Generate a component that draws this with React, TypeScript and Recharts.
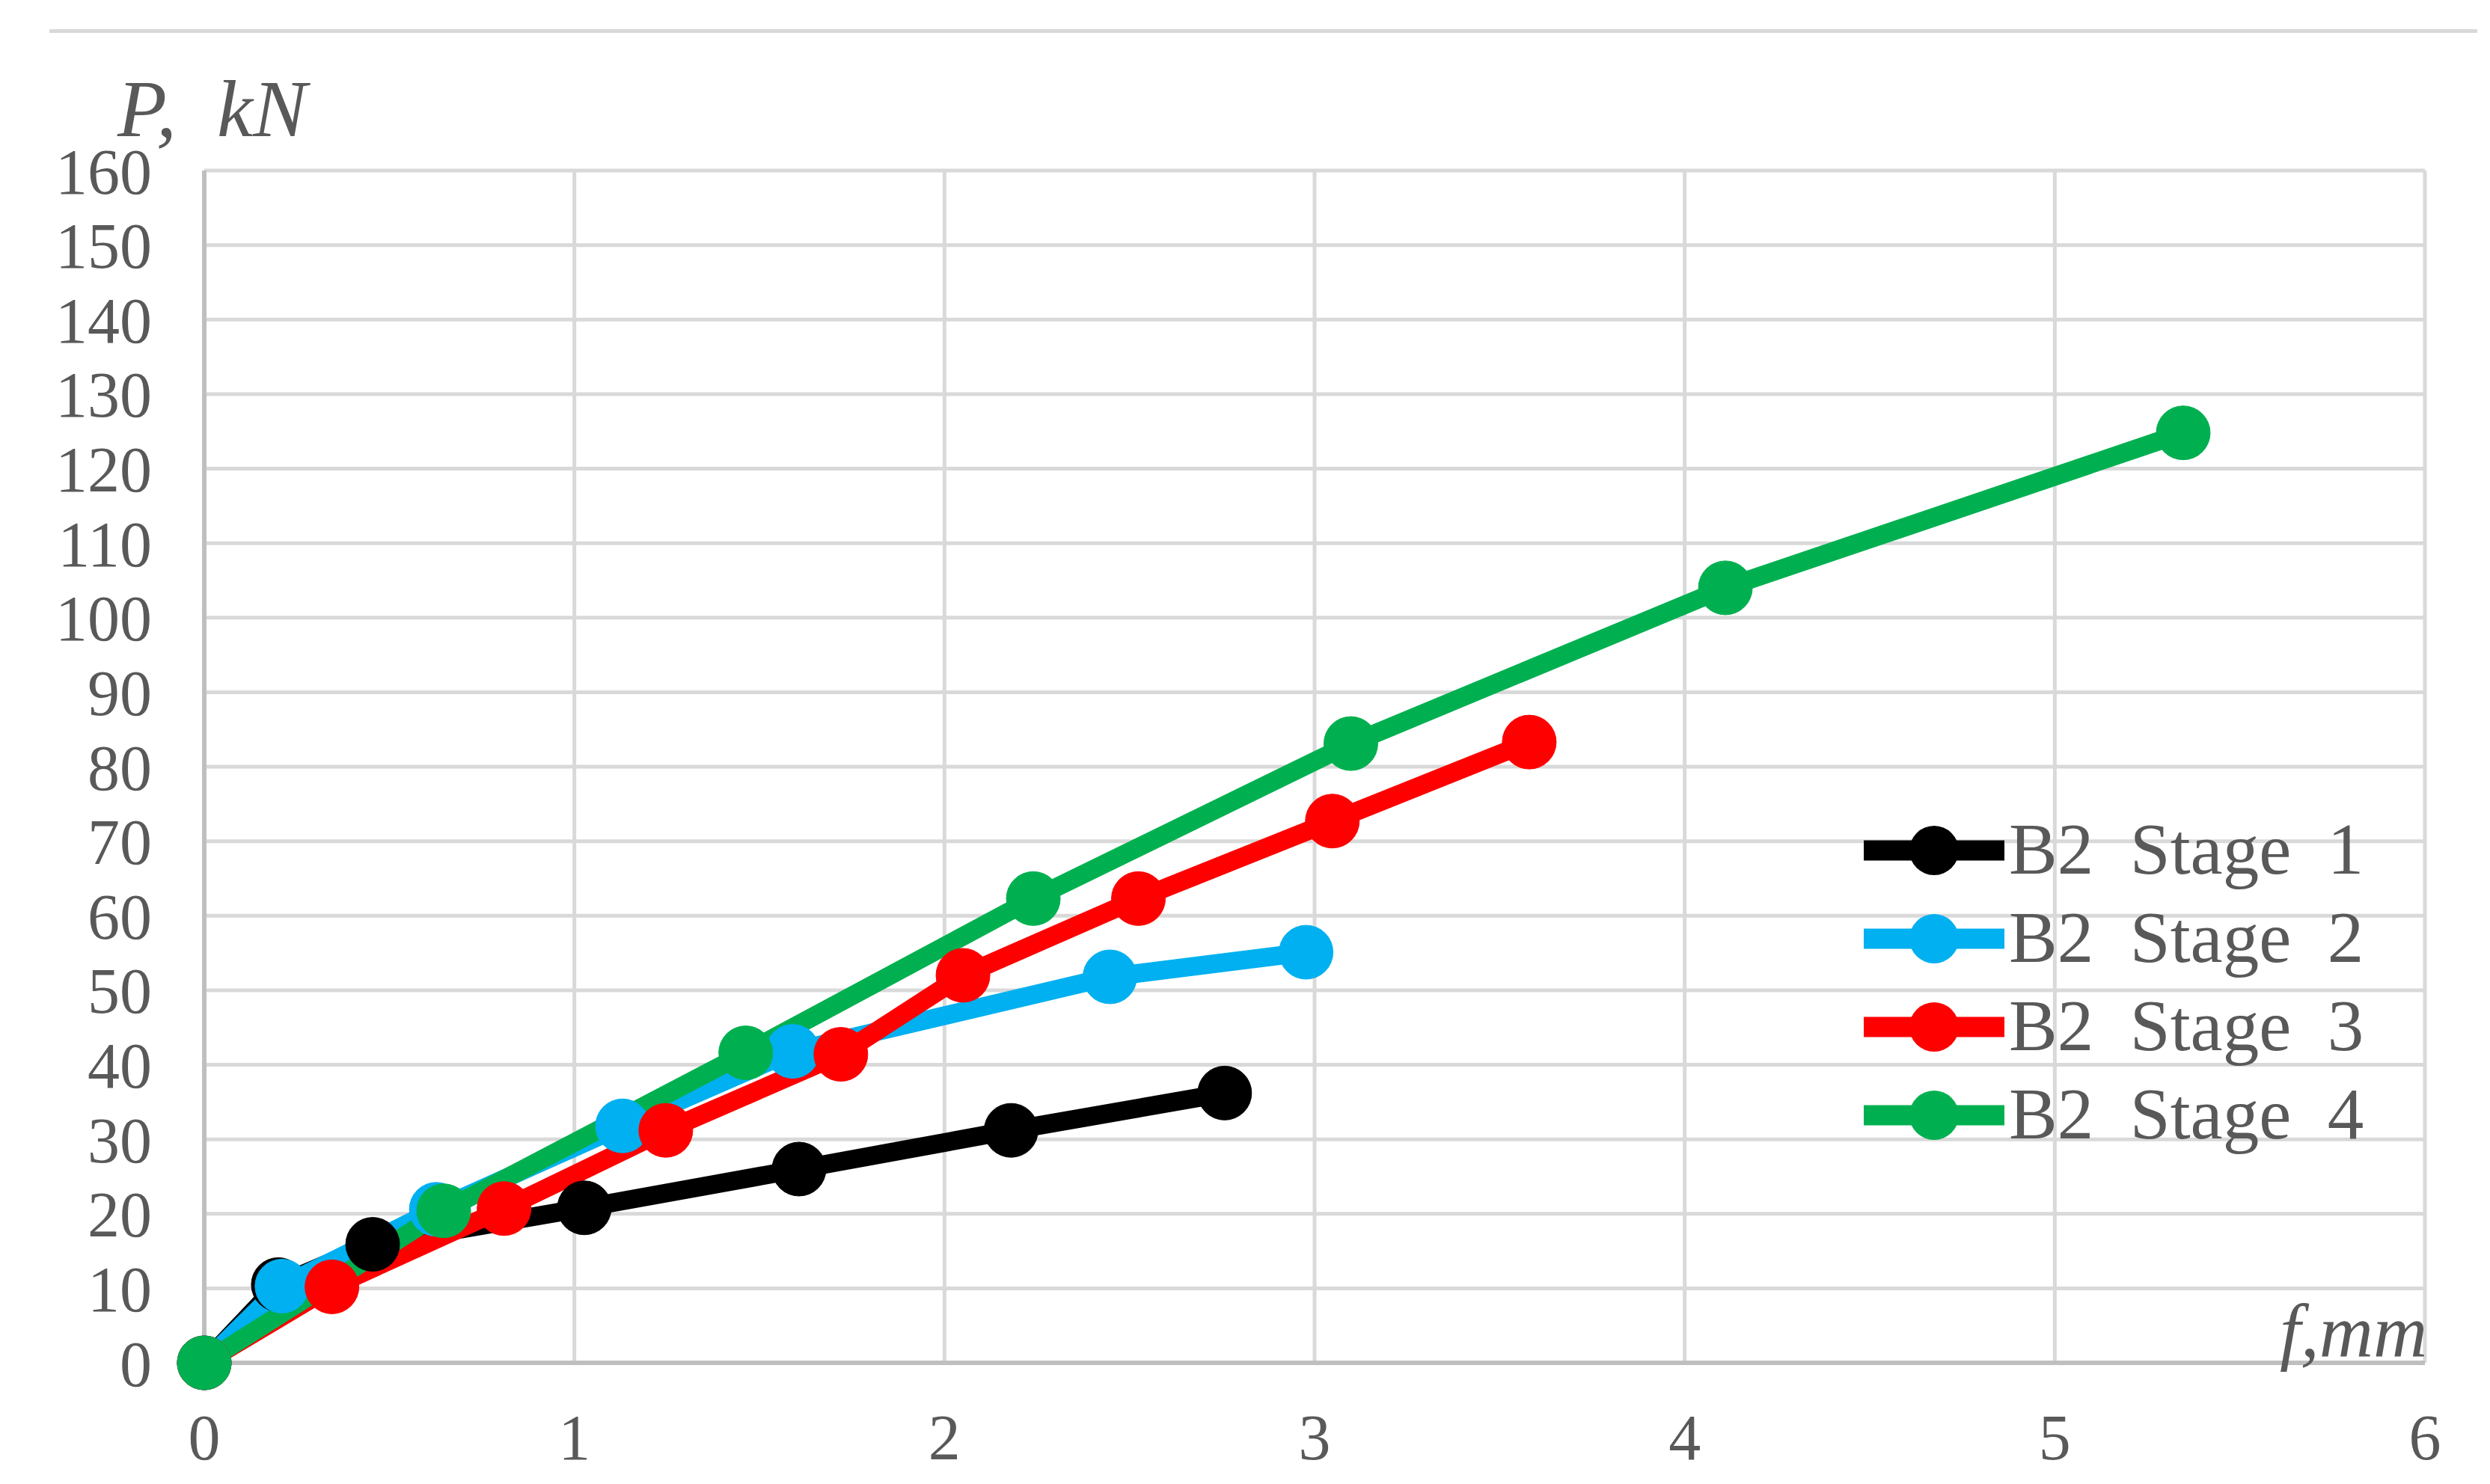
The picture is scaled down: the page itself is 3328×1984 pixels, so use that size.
import React from 'react';
import { LineChart, Line, XAxis, YAxis, CartesianGrid, Legend } from 'recharts';

// deflection f (mm) and load P (kN)
const stage1X = [0, 0.2, 0.455, 1.027, 1.607, 2.18, 2.757];
const stage1Y = [0, 10.5, 15.9, 20.8, 26.0, 31.2, 36.2];

const stage2X = [0, 0.21, 0.627, 1.13, 1.59, 2.447, 2.977];
const stage2Y = [0, 10.3, 20.6, 31.8, 41.8, 51.8, 55.1];

const stage3X = [0, 0.345, 0.81, 1.247, 1.72, 2.05, 2.524, 3.048, 3.58];
const stage3Y = [0, 10.2, 20.7, 31.2, 41.4, 52.0, 62.3, 72.7, 83.3];

const stage4X = [0, 0.647, 1.463, 2.24, 3.098, 4.11, 5.347];
const stage4Y = [0, 20.4, 41.6, 62.3, 83.1, 104.0, 124.8];

const seriesNames = ['B2  Stage  1', 'B2  Stage  2', 'B2  Stage  3', 'B2  Stage  4'];
const seriesColors = ['#000000', '#00b0f0', '#ff0000', '#00b050'];

const xTicks = [0, 1, 2, 3, 4, 5, 6];
const yTicks = [0, 10, 20, 30, 40, 50, 60, 70, 80, 90, 100, 110, 120, 130, 140, 150, 160];

const yTitle = 'P,  kN';
const xTitle = 'f,mm';

const toPoints = (xs: number[], ys: number[]) => xs.map((x, i) => ({ x, y: ys[i] }));

const series = [
  toPoints(stage1X, stage1Y),
  toPoints(stage2X, stage2Y),
  toPoints(stage3X, stage3Y),
  toPoints(stage4X, stage4Y),
];

const FONT = '"Liberation Serif", "Times New Roman", serif';
const TEXT = '#595959';

function LegendBox(props: any) {
  const payload = props.payload || [];
  return (
    <svg width={800} height={payload.length * 118}>
      {payload.map((p: any, i: number) => {
        const cy = 59 + i * 118;
        return (
          <g key={p.value}>
            <line x1={0} x2={188} y1={cy} y2={cy} stroke={p.color} strokeWidth={27} />
            <circle cx={94} cy={cy} r={33} fill={p.color} />
            <text
              x={194}
              y={cy + 31}
              fontFamily={FONT}
              fontSize={97}
              fill={TEXT}
              style={{ whiteSpace: 'pre' }}
            >
              {p.value}
            </text>
          </g>
        );
      })}
    </svg>
  );
}

export default function App() {
  return (
    <div style={{ position: 'absolute', left: 0, top: 0, width: 3328, height: 1984, background: '#fff' }}>
      <div style={{ position: 'absolute', left: 66, top: 39, width: 3245, height: 5, background: '#d9d9d9' }} />
      <LineChart
        width={3328}
        height={1984}
        margin={{ top: 228, right: 87, left: 0, bottom: 0 }}
      >
        <CartesianGrid stroke="#d9d9d9" strokeWidth={5} />
        <XAxis
          dataKey="x"
          type="number"
          domain={[0, 6]}
          ticks={xTicks}
          height={162}
          tickLine={false}
          tickSize={0}
          tickMargin={68}
          axisLine={{ stroke: '#bfbfbf', strokeWidth: 6 }}
          tick={{ fill: TEXT, fontSize: 86, fontFamily: FONT }}
          interval={0}
        />
        <YAxis
          type="number"
          domain={[0, 160]}
          ticks={yTicks}
          width={273}
          tickLine={false}
          tickSize={0}
          tickMargin={70}
          axisLine={{ stroke: '#bfbfbf', strokeWidth: 6 }}
          tick={{ fill: TEXT, fontSize: 86, fontFamily: FONT }}
          interval={0}
        />
        <Legend
          layout="vertical"
          align="center"
          verticalAlign="middle"
          content={<LegendBox />}
          wrapperStyle={{ position: 'absolute', left: 2491, top: 1078, width: 800, height: 472 }}
        />
        {series.map((data, i) => (
          <Line
            key={seriesNames[i]}
            data={data}
            dataKey="y"
            name={seriesNames[i]}
            type="linear"
            stroke={seriesColors[i]}
            strokeWidth={25}
            dot={{ r: 36, fill: seriesColors[i], stroke: seriesColors[i], strokeWidth: 1 }}
            activeDot={false}
            isAnimationActive={false}
            legendType="circle"
          />
        ))}
      </LineChart>
      <svg
        width={3328}
        height={1984}
        style={{ position: 'absolute', left: 0, top: 0, pointerEvents: 'none' }}
      >
        <text x={157} y={182} fontFamily={FONT} fontStyle="italic" fontSize={108} fill={TEXT} style={{ whiteSpace: 'pre' }}>
          {yTitle}
        </text>
        <text x={3047} y={1813} fontFamily={FONT} fontStyle="italic" fontSize={100} fill={TEXT}>
          {xTitle}
        </text>
      </svg>
    </div>
  );
}
